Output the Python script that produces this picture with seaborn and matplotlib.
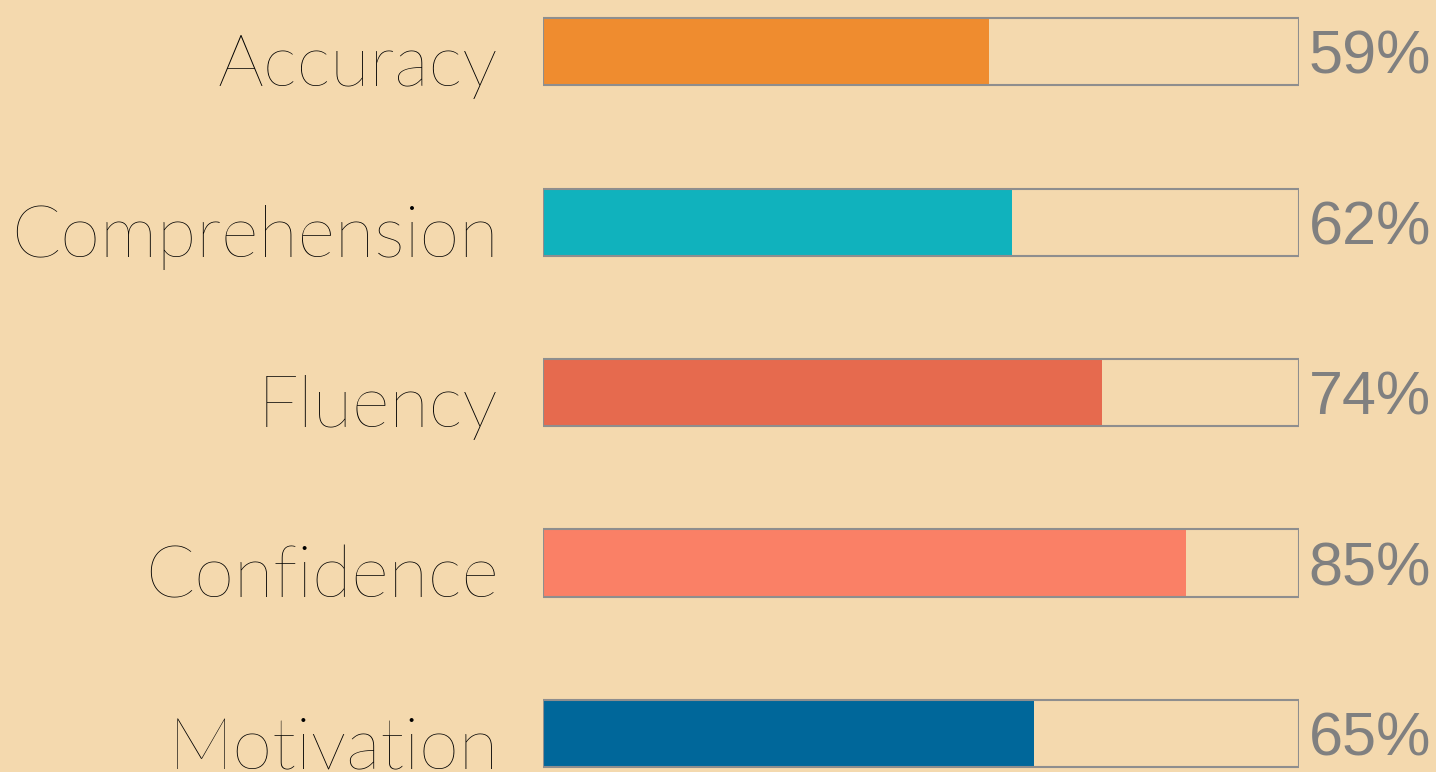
import pandas as pd
import seaborn as sns
import matplotlib.pyplot as plt

# Data
skills = ['Accuracy', 'Comprehension', 'Fluency', 'Confidence', 'Motivation']
scores = [59, 62, 74, 85, 65]
full_scale = [100, 100, 100, 100, 100]
bar_colors = ['#EF8C2F', '#10B2BD', '#E66A4E', '#FA8066', '#00679A']

BG = '#F4D9AE'
FRAME = '#8E8E8E'

df = pd.DataFrame({'Skill': skills, 'Score': scores, 'Full': full_scale})

sns.set_theme(style='white')
plt.rcParams['font.family'] = ['Lato', 'DejaVu Sans']

fig = plt.figure(figsize=(14.36, 7.72), dpi=100, facecolor=BG)
ax = fig.add_axes([543 / 1436, 0, (1299 - 543) / 1436, 1])
ax.set_facecolor(BG)

# coloured bars
sns.barplot(data=df, x='Score', y='Skill', hue='Skill', palette=bar_colors,
            orient='h', width=0.394, legend=False, saturation=1,
            linewidth=0, ax=ax)
n_color = len(ax.patches)

# empty frame for the 100% track
sns.barplot(data=df, x='Full', y='Skill', orient='h', width=0.394,
            color=FRAME, saturation=1, ax=ax)
for p in ax.patches[n_color:]:
    p.set_facecolor('none')
    p.set_edgecolor(FRAME)
    p.set_linewidth(1.5)
    p.set_zorder(3)

ax.set_xlim(0, 100)
ax.set_ylim(4.226, -0.303)
ax.set_xlabel('')
ax.set_ylabel('')
ax.set_xticks([])
ax.set_yticks([])
for s in ax.spines.values():
    s.set_visible(False)

# category labels on the left and percentages on the right
for i, (name, val) in enumerate(zip(skills, scores)):
    ax.text(-5.9, i + 0.09, name, ha='right', va='center', fontsize=52,
            fontweight='light', color='black', clip_on=False)
    ax.text(1.0 + 100.3, i + 0.04, f'{val}%', ha='left', va='center',
            fontsize=44, family='Liberation Sans', color='#808080',
            clip_on=False)

fig.savefig('out.png', dpi=100, facecolor=BG)
